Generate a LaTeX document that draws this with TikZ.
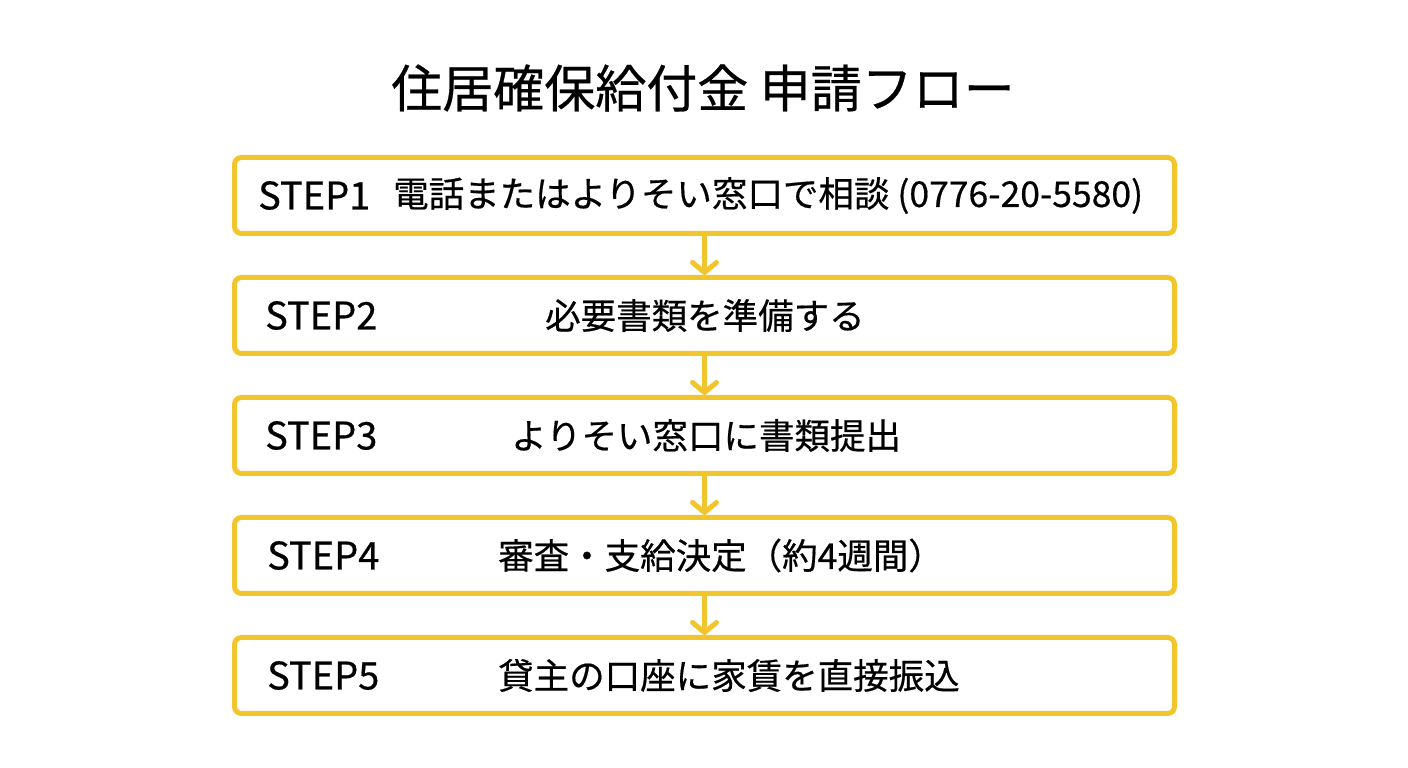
\documentclass[tikz,border=0pt]{standalone}
\usepackage{fontspec}
\setmainfont{Noto Sans CJK JP}
\newfontfamily\medfont{Noto Sans CJK JP}[FakeBold=0.5]
\usetikzlibrary{positioning,arrows.meta}
\definecolor{flowyellow}{HTML}{F0C52E}

\begin{document}
\begin{tikzpicture}[
		x=1pt,
		y=1pt,
		node distance=39pt,
		every node/.style={
			inner sep=0pt,
			text=black,
		},
		stepbox/.style={
			draw=flowyellow,
			line width=5pt,
			rounded corners=7pt,
			fill=white,
			minimum width=940pt,
			minimum height=76pt,
		},
		steplabel/.style={
			font=\medfont\fontsize{38pt}{44pt}\selectfont,
		},
		steptext/.style={
			font=\medfont\fontsize{35.5pt}{42pt}\selectfont,
		},
		flowarrow/.style={
			draw=flowyellow,
			line width=5pt,
			-{Straight Barb[round,length=10pt,width=24pt]},
		},
	]
		\useasboundingbox (0,0) rectangle (1408,768);
		\node[font=\medfont\fontsize{51pt}{58pt}\selectfont] (title) at (703,680) {住居確保給付金 申請フロー};

		\node[stepbox] (box1) at (704.5,572.5) {};
		\node[stepbox, below=of box1] (box2) {};
		\node[stepbox, below=of box2] (box3) {};
		\node[stepbox, below=of box3] (box4) {};
		\node[stepbox, below=of box4] (box5) {};

		\node[steplabel, right=26pt of box1.west] (label1) {STEP1};
		\node[steptext, right=161pt of box1.west] (text1) {電話またはよりそい窓口で相談 (0776-20-5580)};
		\node[steplabel, right=33pt of box2.west] (label2) {STEP2};
		\node[steptext, right=313pt of box2.west] (text2) {必要書類を準備する};
		\node[steplabel, right=33pt of box3.west] (label3) {STEP3};
		\node[steptext, right=279pt of box3.west] (text3) {よりそい窓口に書類提出};
		\node[steplabel, right=35pt of box4.west] (label4) {STEP4};
		\node[steptext, right=266pt of box4.west] (text4) {審査・支給決定（約4週間）};
		\node[steplabel, right=35pt of box5.west] (label5) {STEP5};
		\node[steptext, right=266pt of box5.west] (text5) {貸主の口座に家賃を直接振込};

		\draw[flowarrow] (box1) -- (box2);
		\draw[flowarrow] (box2) -- (box3);
		\draw[flowarrow] (box3) -- (box4);
		\draw[flowarrow] (box4) -- (box5);
	\end{tikzpicture}
\end{document}
